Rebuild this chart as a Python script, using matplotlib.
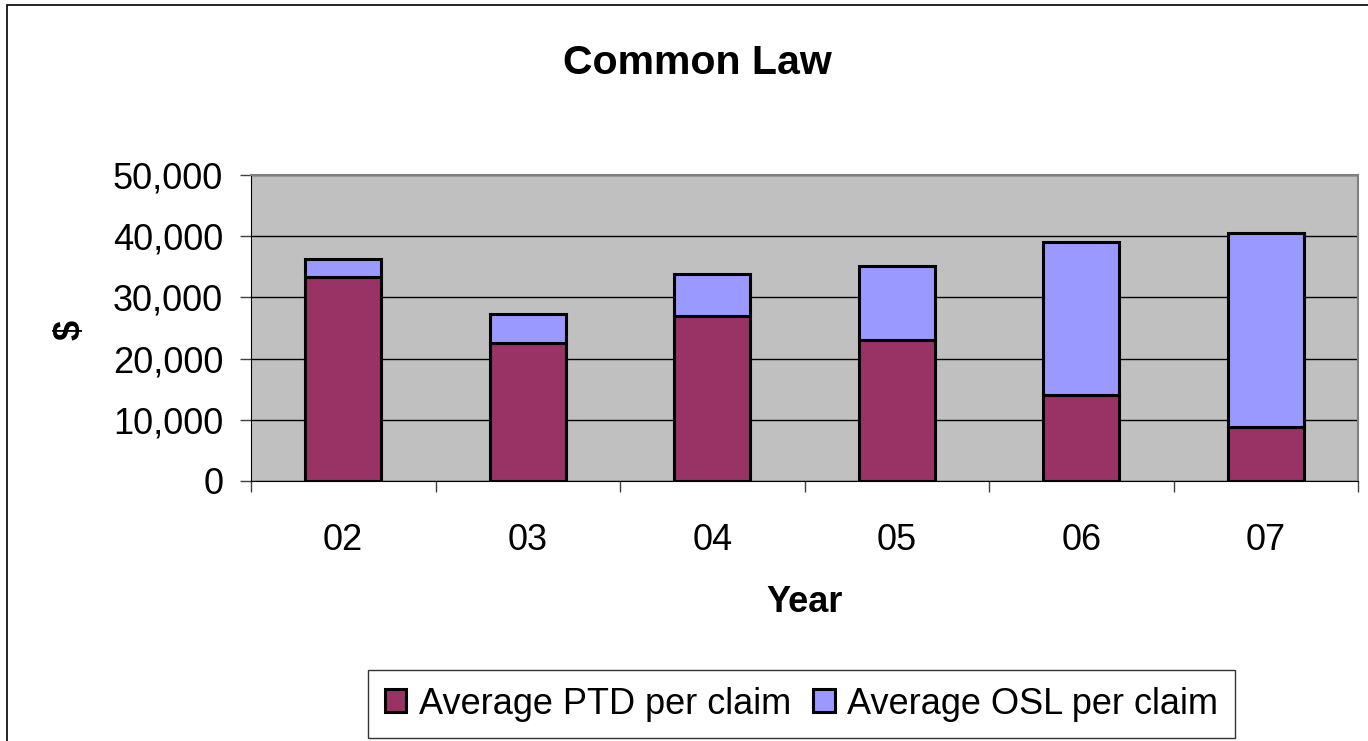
import numpy as np
import matplotlib
matplotlib.use("Agg")
import matplotlib.pyplot as plt
from matplotlib.patches import Rectangle

plt.rcParams['font.family'] = ['Liberation Sans', 'DejaVu Sans']

# data
years = ["02", "03", "04", "05", "06", "07"]
avg_ptd = [33400, 22600, 26900, 23100, 14100, 8900]
avg_osl = [2900, 4700, 7000, 12100, 25000, 31600]

ptd_color = "#993366"
osl_color = "#9999FF"

fig = plt.figure(figsize=(13.68, 7.41), dpi=100)
W, H = 1368, 741

# outer chart border (right/bottom cut off in the original)
fig.patches.append(Rectangle((7 / W, -0.1), 1.2, 1 - 5 / H + 0.1, transform=fig.transFigure,
                             fill=False, edgecolor="black", linewidth=1.2))

ax = fig.add_axes([251 / W, 1 - 481 / H, (1358 - 251) / W, 306 / H])
ax.set_facecolor("#C0C0C0")

x = np.arange(len(years))
ax.bar(x, avg_ptd, width=0.41, color=ptd_color, edgecolor="black", linewidth=2.2,
       label="Average PTD per claim", zorder=3)
ax.bar(x, avg_osl, width=0.41, bottom=avg_ptd, color=osl_color, edgecolor="black",
       linewidth=2.2, label="Average OSL per claim", zorder=3)

ax.set_xlim(-0.5, len(years) - 0.5)
ax.set_ylim(0, 50000)
ax.set_yticks(np.arange(0, 50001, 10000))
ax.set_yticklabels([f"{v:,}" for v in range(0, 50001, 10000)])
ax.yaxis.grid(True, color="black", linewidth=1.0, zorder=1)
ax.set_axisbelow(True)

ax.set_xticks(x)
ax.set_xticklabels(years)
ax.set_xticks(np.arange(-0.5, len(years)), minor=True)
ax.tick_params(axis="x", which="major", length=0, pad=30, labelsize=26)
ax.tick_params(axis="x", which="minor", length=8, width=1, color="#404040")
ax.tick_params(axis="y", length=8, width=1, pad=12, labelsize=26, color="#404040")

for side in ["top", "right"]:
    ax.spines[side].set_color("#808080")
    ax.spines[side].set_linewidth(1.5)
ax.spines["left"].set_color("black")
ax.spines["bottom"].set_color("black")

fig.text(697 / W, 1 - 63 / H, "Common Law", ha="center", va="center", fontsize=29.5,
         fontweight="bold")
fig.text(805 / W, 1 - 602 / H, "Year", ha="center", va="center", fontsize=26,
         fontweight="bold")
fig.text(70 / W, 1 - 330 / H, "$", ha="center", va="center", fontsize=26,
         fontweight="bold", rotation=90)

leg = fig.legend(loc="center", bbox_to_anchor=((366 + 1237) / 2 / W, 1 - 704 / H), ncol=2,
                 fontsize=26, frameon=True, fancybox=False, edgecolor="black",
                 handlelength=0.6, handleheight=0.6, handletextpad=0.35,
                 columnspacing=0.6, borderpad=0.45)
leg.get_frame().set_linewidth(1.0)

fig.savefig("out.png", dpi=100, facecolor="white")
